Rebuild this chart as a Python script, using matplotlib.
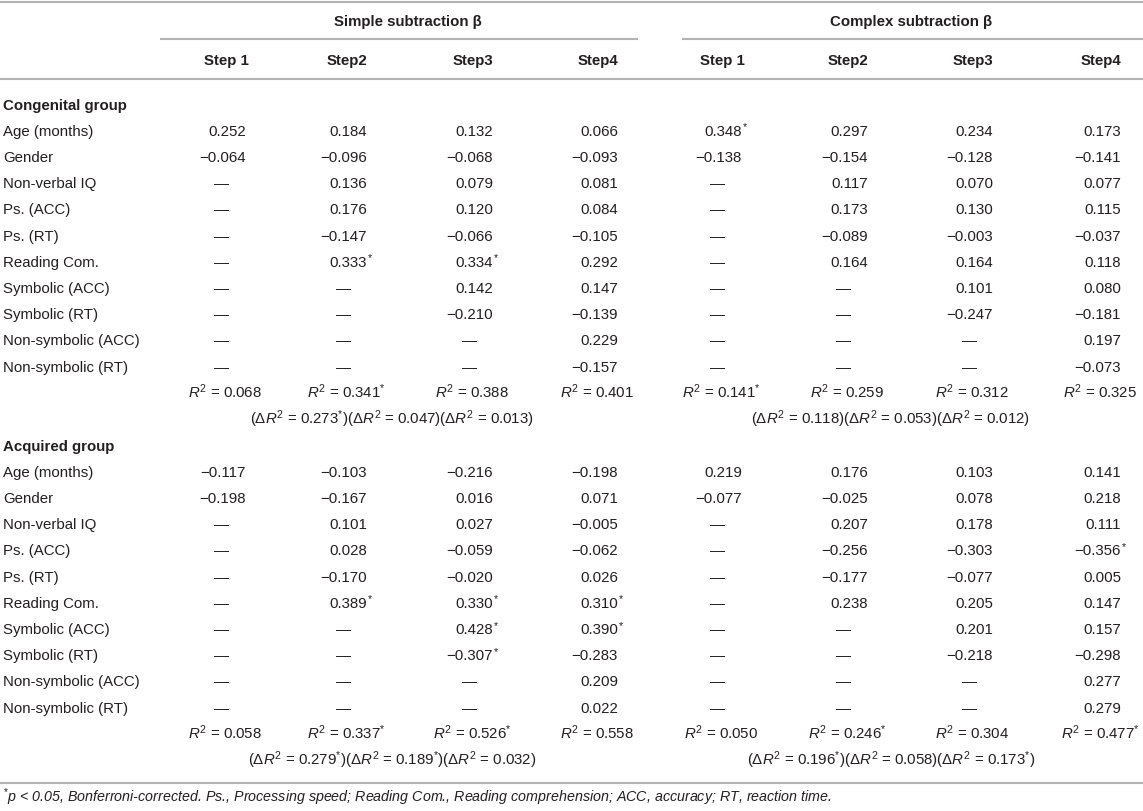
import matplotlib
matplotlib.use("Agg")
import matplotlib.pyplot as plt

plt.rcParams['font.family'] = ['Liberation Sans', 'DejaVu Sans']
plt.rcParams['mathtext.fontset'] = 'custom'
plt.rcParams['mathtext.rm'] = 'Liberation Sans'
plt.rcParams['mathtext.it'] = 'Liberation Sans:italic'
plt.rcParams['mathtext.bf'] = 'Liberation Sans:bold'

# ---------------- data ----------------
groups = ["Congenital group", "Acquired group"]
sections = ["Simple subtraction \u03b2", "Complex subtraction \u03b2"]
steps = ["Step 1", "Step2", "Step3", "Step4"]
row_labels = ["Age (months)", "Gender", "Non-verbal IQ", "Ps. (ACC)", "Ps. (RT)",
              "Reading Com.", "Symbolic (ACC)", "Symbolic (RT)",
              "Non-symbolic (ACC)", "Non-symbolic (RT)"]

cong_simple = [
    [0.252, 0.184, 0.132, 0.066],
    [-0.064, -0.096, -0.068, -0.093],
    [None, 0.136, 0.079, 0.081],
    [None, 0.176, 0.120, 0.084],
    [None, -0.147, -0.066, -0.105],
    [None, 0.333, 0.334, 0.292],
    [None, None, 0.142, 0.147],
    [None, None, -0.210, -0.139],
    [None, None, None, 0.229],
    [None, None, None, -0.157],
]
cong_simple_sig = [(5, 1), (5, 2)]
cong_complex = [
    [0.348, 0.297, 0.234, 0.173],
    [-0.138, -0.154, -0.128, -0.141],
    [None, 0.117, 0.070, 0.077],
    [None, 0.173, 0.130, 0.115],
    [None, -0.089, -0.003, -0.037],
    [None, 0.164, 0.164, 0.118],
    [None, None, 0.101, 0.080],
    [None, None, -0.247, -0.181],
    [None, None, None, 0.197],
    [None, None, None, -0.073],
]
cong_complex_sig = [(0, 0)]
acq_simple = [
    [-0.117, -0.103, -0.216, -0.198],
    [-0.198, -0.167, 0.016, 0.071],
    [None, 0.101, 0.027, -0.005],
    [None, 0.028, -0.059, -0.062],
    [None, -0.170, -0.020, 0.026],
    [None, 0.389, 0.330, 0.310],
    [None, None, 0.428, 0.390],
    [None, None, -0.307, -0.283],
    [None, None, None, 0.209],
    [None, None, None, 0.022],
]
acq_simple_sig = [(5, 1), (5, 2), (5, 3), (6, 2), (6, 3), (7, 2)]
acq_complex = [
    [0.219, 0.176, 0.103, 0.141],
    [-0.077, -0.025, 0.078, 0.218],
    [None, 0.207, 0.178, 0.111],
    [None, -0.256, -0.303, -0.356],
    [None, -0.177, -0.077, 0.005],
    [None, 0.238, 0.205, 0.147],
    [None, None, 0.201, 0.157],
    [None, None, -0.218, -0.298],
    [None, None, None, 0.277],
    [None, None, None, 0.279],
]
acq_complex_sig = [(3, 3)]

cong_simple_r2 = [0.068, 0.341, 0.388, 0.401]
cong_simple_r2_sig = [False, True, False, False]
cong_simple_dr2 = [0.273, 0.047, 0.013]
cong_simple_dr2_sig = [True, False, False]
cong_complex_r2 = [0.141, 0.259, 0.312, 0.325]
cong_complex_r2_sig = [True, False, False, False]
cong_complex_dr2 = [0.118, 0.053, 0.012]
cong_complex_dr2_sig = [False, False, False]

acq_simple_r2 = [0.058, 0.337, 0.526, 0.558]
acq_simple_r2_sig = [False, True, True, False]
acq_simple_dr2 = [0.279, 0.189, 0.032]
acq_simple_dr2_sig = [True, True, False]
acq_complex_r2 = [0.050, 0.246, 0.304, 0.477]
acq_complex_r2_sig = [False, True, False, True]
acq_complex_dr2 = [0.196, 0.058, 0.173]
acq_complex_dr2_sig = [True, False, True]

footnote = ("$^{*}$p < 0.05, Bonferroni-corrected. Ps., Processing speed; Reading Com., "
            "Reading comprehension; ACC, accuracy; RT, reaction time.")

# ---------------- layout ----------------
W, H = 1143, 812
fig = plt.figure(figsize=(W / 100, H / 100), dpi=100)
ax = fig.add_axes([0, 0, 1, 1])
ax.set_xlim(0, W)
ax.set_ylim(H, 0)
ax.axis('off')

TXT = '#231f20'
LINE = '#b3b3b3'
FS = 10.8
BASE = 5.3  # baseline offset from visual center of digits

col_right = [246, 367, 493, 618, 742, 868, 993, 1121]
label_x = 3


def fmt(v):
    s = f"{abs(v):.3f}"
    return ("\u2212" + s) if v < 0 else s


def hline(x0, x1, y):
    ax.plot([x0, x1], [y, y], color=LINE, lw=1.5, solid_capstyle='butt')


def txt(x, y, s, ha='left', **kw):
    kw.setdefault('fontsize', FS)
    kw.setdefault('color', TXT)
    ax.text(x, y + BASE, s, ha=ha, va='baseline', **kw)


# header
hline(0, W, 3)
txt(408, 21, sections[0], ha='center', fontweight='bold')
txt(911, 21, sections[1], ha='center', fontweight='bold')
hline(160, 638, 39.5)
hline(682, W, 39.5)
for k in range(8):
    txt(col_right[k] - 20, 60, steps[k % 4], ha='center', fontweight='bold')
hline(0, W, 80)

group_y = [105, 446]
row_gap = 26.2
blocks = [
    (cong_simple, cong_simple_sig, cong_complex, cong_complex_sig,
     cong_simple_r2, cong_simple_r2_sig, cong_complex_r2, cong_complex_r2_sig,
     cong_simple_dr2, cong_simple_dr2_sig, cong_complex_dr2, cong_complex_dr2_sig),
    (acq_simple, acq_simple_sig, acq_complex, acq_complex_sig,
     acq_simple_r2, acq_simple_r2_sig, acq_complex_r2, acq_complex_r2_sig,
     acq_simple_dr2, acq_simple_dr2_sig, acq_complex_dr2, acq_complex_dr2_sig),
]

for g, gy in enumerate(group_y):
    (s_vals, s_sig, c_vals, c_sig, s_r2, s_r2s, c_r2, c_r2s,
     s_dr2, s_dr2s, c_dr2, c_dr2s) = blocks[g]
    txt(label_x, gy, groups[g], fontweight='bold')
    y0 = gy + 25.5
    for i, lab in enumerate(row_labels):
        y = y0 + i * row_gap
        txt(label_x, y, lab)
        for sec, (vals, sig) in enumerate([(s_vals, s_sig), (c_vals, c_sig)]):
            for j in range(4):
                v = vals[i][j]
                xr = col_right[sec * 4 + j]
                if v is None:
                    txt(xr - 24, y, "\u2014", ha='center')
                else:
                    txt(xr, y, fmt(v), ha='right')
                    if (i, j) in sig:
                        ax.text(xr + 0.5, y - 3, "*", ha='left', va='center',
                                fontsize=7.5, color=TXT)
    # R2 row
    yr = y0 + len(row_labels) * row_gap
    for sec, (r2, r2s) in enumerate([(s_r2, s_r2s), (c_r2, c_r2s)]):
        for j in range(4):
            xr = col_right[sec * 4 + j]
            s = "$R^2$ = " + fmt(r2[j]) + ("$^{*}$" if r2s[j] else "")
            txt(xr - 21, yr, s, ha='center')
    # delta R2 row
    yd = yr + row_gap
    for sec, (dr2, dr2s, cx) in enumerate([(s_dr2, s_dr2s, 392), (c_dr2, c_dr2s, 891)]):
        s = "".join("(\u0394$R^2$ = " + fmt(d) + ("$^{*}$" if ss else "") + ")"
                    for d, ss in zip(dr2, dr2s))
        txt(cx, yd, s, ha='center')

hline(0, W, 784)
txt(3, 797, footnote, fontsize=10.3, fontstyle='italic')

fig.savefig("out.png", dpi=100)
